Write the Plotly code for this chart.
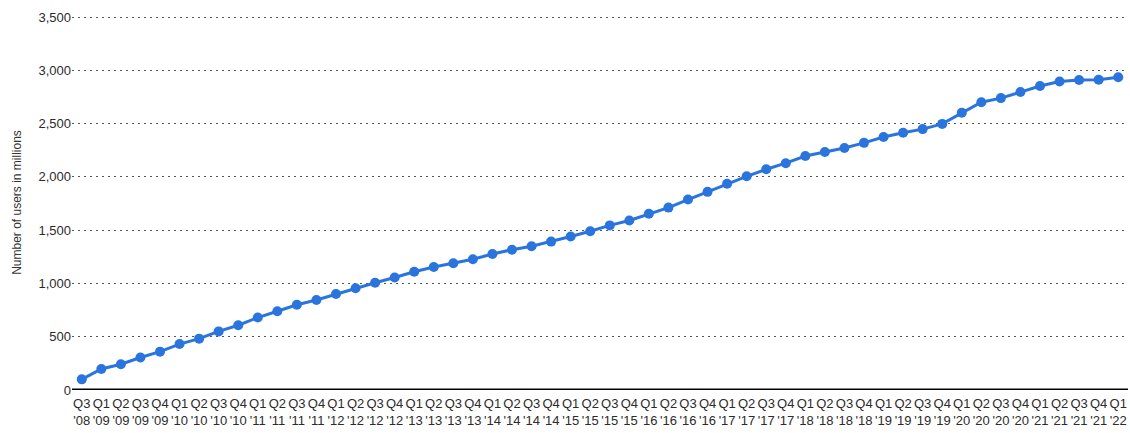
import plotly.graph_objects as go

# Monthly active users, Q3 2008 through Q1 2022 (millions)
quarters = (["Q3<br>'08"] +
            [f"Q{q}<br>'{y:02d}" for y in range(9, 22) for q in range(1, 5)] +
            ["Q1<br>'22"])
users = [100, 197, 242, 305, 360, 431, 482, 550, 608, 680, 739, 800, 845,
         901, 955, 1007, 1056, 1110, 1155, 1189, 1228, 1276, 1317, 1350, 1393,
         1441, 1490, 1545, 1591, 1654, 1712, 1788, 1860, 1936, 2006, 2072,
         2129, 2196, 2234, 2271, 2320, 2375, 2414, 2449, 2498, 2603, 2701,
         2740, 2797, 2853, 2895, 2910, 2912, 2936]
y_ticks = [0, 500, 1000, 1500, 2000, 2500, 3000, 3500]

idx = list(range(len(quarters)))

fig = go.Figure(go.Scatter(
    x=idx, y=users, mode="lines+markers",
    line=dict(color="#2a74de", width=3),
    marker=dict(color="#2a74de", size=10),
    hoverinfo="y",
))

fig.update_layout(
    width=1130, height=433,
    margin=dict(l=72, r=2, t=15, b=43),
    plot_bgcolor="white", paper_bgcolor="white",
    font=dict(family="Liberation Sans, Arial, sans-serif", color="#333333", size=13),
    showlegend=False,
)
fig.update_xaxes(
    tickmode="array", tickvals=idx, ticktext=quarters,
    range=[-0.5, len(quarters) - 0.5],
    showgrid=False, showline=False, zeroline=False,
    tickfont=dict(size=13, color="#2b2b2b"), ticks="",
    ticklabelstandoff=4,
)
fig.update_yaxes(
    range=[0, 3520], tickvals=y_ticks, tickformat=",",
    showgrid=True, gridcolor="#555555", griddash="2px,4px", gridwidth=1.2,
    zeroline=False, showline=False, ticks="",
    tickfont=dict(size=13, color="#2b2b2b"),
    title=dict(text="Number of users in millions", font=dict(size=12, color="#333333"), standoff=14),
)
fig.add_shape(type="line", xref="paper", yref="y", x0=0, x1=1, y0=0, y1=0,
              line=dict(color="black", width=3), layer="below")

fig.write_html("out.html")
